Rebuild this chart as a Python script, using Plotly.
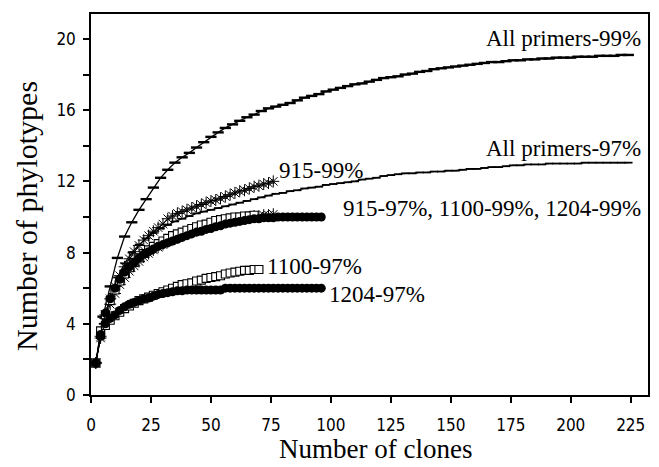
import plotly.graph_objects as go

# ---- data ----
x_all = list(range(2, 225, 3))
all99 = [1.8, 4.4, 6.1, 7.7, 8.9, 9.7, 10.4, 11.0, 11.65, 12.2,
         12.65, 13.05, 13.35, 13.6, 13.9, 14.2, 14.5, 14.75, 15.0, 15.2,
         15.4, 15.6, 15.75, 15.95, 16.1, 16.2, 16.3, 16.4, 16.55, 16.7,
         16.8, 16.9, 17.05, 17.15, 17.25, 17.35, 17.45, 17.5, 17.6, 17.7,
         17.8, 17.85, 17.9, 18.0, 18.05, 18.15, 18.2, 18.3, 18.35, 18.4,
         18.45, 18.5, 18.55, 18.6, 18.65, 18.7, 18.7, 18.75, 18.8, 18.8,
         18.85, 18.85, 18.9, 18.9, 18.95, 18.95, 18.95, 19.0, 19.0, 19.0,
         19.05, 19.05, 19.05, 19.1, 19.1]
all97 = [1.8, 4.0, 5.5, 6.6, 7.4, 8.0, 8.45, 8.8, 9.1, 9.35,
         9.55, 9.75, 9.9, 10.05, 10.2, 10.3, 10.4, 10.5, 10.6, 10.7,
         10.8, 10.9, 11.0, 11.1, 11.2, 11.3, 11.35, 11.45, 11.5, 11.6,
         11.65, 11.7, 11.8, 11.85, 11.9, 11.95, 12.0, 12.1, 12.15, 12.2,
         12.3, 12.35, 12.4, 12.45, 12.45, 12.5, 12.5, 12.55, 12.55, 12.6,
         12.6, 12.65, 12.7, 12.7, 12.75, 12.8, 12.8, 12.85, 12.9, 12.9,
         12.95, 12.95, 12.95, 13.0, 13.0, 13.0, 13.0, 13.0, 13.05, 13.05,
         13.05, 13.05, 13.05, 13.05, 13.05]

x_915 = list(range(2, 77, 2))
p915_99 = [1.8, 3.3, 4.5, 5.4, 6.1, 6.7, 7.2, 7.65, 8.05, 8.4,
           8.7, 8.95, 9.2, 9.4, 9.6, 9.9, 10.05, 10.2, 10.3, 10.4,
           10.5, 10.6, 10.7, 10.8, 10.9, 10.95, 11.05, 11.15, 11.25, 11.35,
           11.45, 11.5, 11.6, 11.7, 11.75, 11.85, 11.9, 12.0]
p915_97 = [1.8, 3.2, 4.3, 5.1, 5.7, 6.2, 6.6, 6.95, 7.25, 7.5,
           7.75, 7.95, 8.15, 8.3, 8.45, 8.6, 8.75, 8.85, 8.95, 9.05,
           9.15, 9.25, 9.35, 9.45, 9.5, 9.6, 9.65, 9.75, 9.8, 9.85,
           9.9, 9.95, 10.0, 10.05, 10.05, 10.1, 10.1, 10.15]

x_1100_99 = list(range(2, 69, 2))
p1100_99 = [1.8, 3.4, 4.5, 5.3, 5.9, 6.4, 6.8, 7.15, 7.45, 7.7,
            7.95, 8.15, 8.35, 8.5, 8.65, 8.8, 8.95, 9.05, 9.15, 9.25,
            9.35, 9.45, 9.55, 9.6, 9.7, 9.8, 9.85, 9.9, 9.95, 10.0,
            10.0, 10.05, 10.05, 10.1]
x_1100_97 = list(range(2, 71, 2))
p1100_97 = [1.8, 3.6, 3.9, 4.2, 4.45, 4.65, 4.85, 5.0, 5.15, 5.3,
            5.4, 5.5, 5.6, 5.7, 5.8, 5.9, 6.0, 6.1, 6.2, 6.25,
            6.3, 6.4, 6.45, 6.55, 6.6, 6.65, 6.7, 6.8, 6.85, 6.9,
            6.95, 7.0, 7.0, 7.05, 7.05]

x_1204 = list(range(2, 97, 2))
p1204_99 = [1.8, 3.4, 4.6, 5.4, 6.0, 6.5, 6.9, 7.2, 7.45, 7.7,
            7.9, 8.05, 8.2, 8.35, 8.45, 8.55, 8.65, 8.75, 8.85, 8.95,
            9.05, 9.15, 9.2, 9.3, 9.35, 9.45, 9.5, 9.6, 9.65, 9.7,
            9.75, 9.8, 9.85, 9.9, 9.9, 9.95, 9.95, 9.95, 10.0, 10.0,
            10.0, 10.0, 10.0, 10.0, 10.0, 10.0, 10.0, 10.0]
p1204_97 = [1.8, 3.3, 4.0, 4.3, 4.5, 4.75, 4.95, 5.1, 5.2, 5.3,
            5.4, 5.45, 5.55, 5.65, 5.7, 5.75, 5.8, 5.85, 5.85, 5.9,
            5.9, 5.9, 5.9, 5.9, 5.9, 5.9, 5.9, 6.0, 6.0, 6.0,
            6.0, 6.0, 6.0, 6.0, 6.0, 6.0, 6.0, 6.0, 6.0, 6.0,
            6.0, 6.0, 6.0, 6.0, 6.0, 6.0, 6.0, 6.0]

x_ticks = [0, 25, 50, 75, 100, 125, 150, 175, 200, 225]
y_ticks = [0, 2, 4, 6, 8, 10, 12, 14, 16, 18, 20]
y_ticktext = ["0", "", "4", "", "8", "", "12", "", "16", "", "20"]

labels = [
    ("All primers-99%", 230, 20.0, "right"),
    ("All primers-97%", 230, 13.85, "right"),
    ("915-97%, 1100-99%, 1204-99%", 230, 10.45, "right"),
    ("915-99%", 77.5, 12.6, "left"),
    ("1100-97%", 72.5, 7.2, "left"),
    ("1204-97%", 98.5, 5.65, "left"),
]

SERIF = "Liberation Serif, Times New Roman, serif"
SANS = "Liberation Sans Narrow, DejaVu Sans Condensed, Liberation Sans, Arial, sans-serif"

fig = go.Figure()

def add(x, y, symbol, size, lw=1.0, mlw=1.2, fill="black"):
    fig.add_trace(go.Scatter(
        x=x, y=y, mode="lines+markers",
        line=dict(color="black", width=lw),
        marker=dict(symbol=symbol, size=size, color=fill,
                    line=dict(color="black", width=mlw)),
        showlegend=False, hoverinfo="skip"))

add(x_all, all99, "line-ew", 8, lw=1.3, mlw=2.4)
add(x_all, all97, "line-ew", 6, lw=1.1, mlw=1.8)
add(x_915, p915_99, "asterisk-open", 10, lw=1.0, mlw=1.0)
add(x_915, p915_97, "asterisk-open", 10, lw=1.0, mlw=1.0)
add(x_1100_99, p1100_99, "square", 8, lw=1.0, mlw=1.1, fill="white")
add(x_1100_97, p1100_97, "square", 8, lw=1.0, mlw=1.1, fill="white")
add(x_1204, p1204_99, "circle", 9, lw=1.0, mlw=0)
add(x_1204, p1204_97, "circle", 9, lw=1.0, mlw=0)

for text, xv, yv, anchor in labels:
    fig.add_annotation(x=xv, y=yv, text=text, showarrow=False,
                       xanchor=anchor, yanchor="middle",
                       font=dict(family=SERIF, size=23, color="black"))

fig.add_annotation(x=0.51, y=-0.142, xref="paper", yref="paper",
                   text="Number of clones", showarrow=False,
                   xanchor="center", yanchor="middle",
                   font=dict(family=SERIF, size=27, color="black"))
fig.add_annotation(x=-0.115, y=0.47, xref="paper", yref="paper",
                   text="Number of phylotypes", showarrow=False, textangle=-90,
                   xanchor="center", yanchor="middle",
                   font=dict(family=SERIF, size=30, color="black"))

# the page body adds an 8px offset, so the figure is 8px smaller on each axis
fig.update_layout(
    width=651, height=459,
    margin=dict(l=83, r=11, t=4, b=72),
    paper_bgcolor="white", plot_bgcolor="white",
    xaxis=dict(range=[0, 232.2], tickvals=x_ticks, showgrid=False, zeroline=False,
               showline=True, mirror=True, linecolor="black", linewidth=1.5,
               ticks="outside", ticklen=6, tickwidth=1.5, tickcolor="black",
               ticklabelstandoff=8,
               tickfont=dict(family=SANS, size=17, color="black")),
    yaxis=dict(range=[0, 21.4], tickvals=y_ticks, ticktext=y_ticktext,
               showgrid=False, zeroline=False,
               showline=True, mirror=True, linecolor="black", linewidth=1.5,
               ticks="outside", ticklen=6, tickwidth=1.5, tickcolor="black",
               ticklabelstandoff=4,
               tickfont=dict(family=SANS, size=17, color="black")),
)

fig.write_html("out.html")
